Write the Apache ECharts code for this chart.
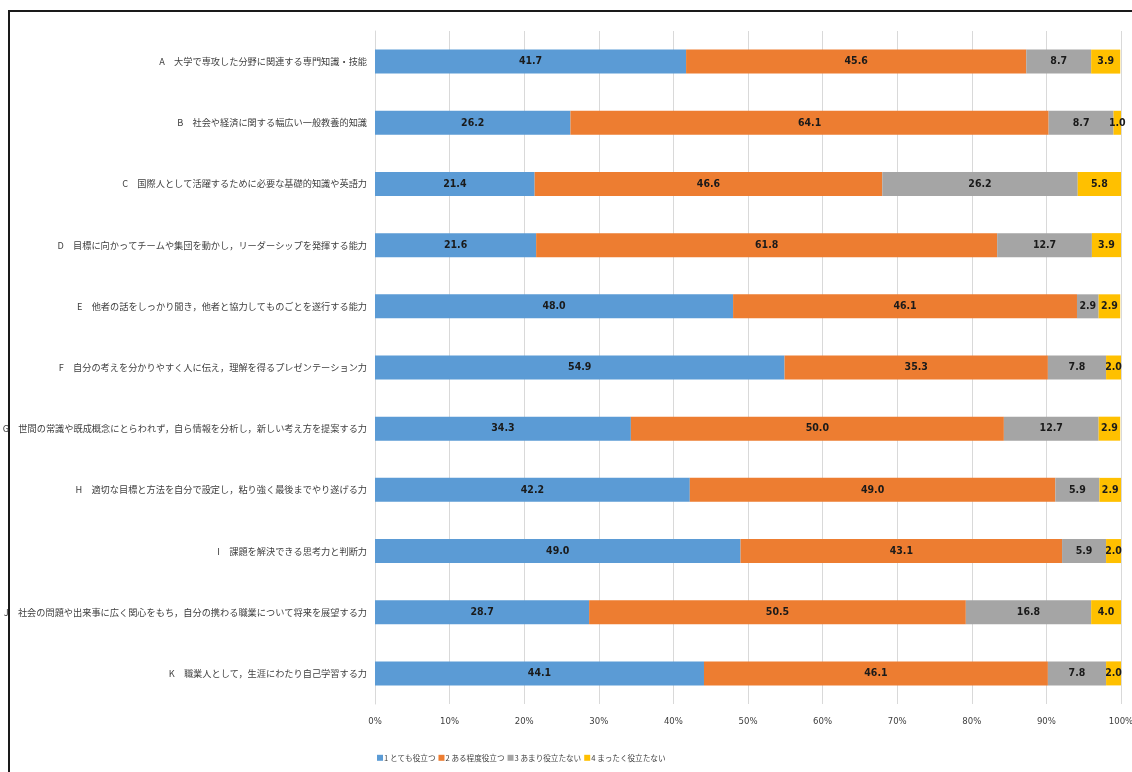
<!DOCTYPE html>
<html><head><meta charset="utf-8">
<script src="https://cdn.jsdelivr.net/npm/echarts@6/dist/echarts.min.js"></script>
<style>html,body{margin:0;padding:0;background:#fff}#c{width:1132px;height:772px}</style>
</head><body><div id="c"></div>
<script>
const categories = [
  'A　大学で専攻した分野に関連する専門知識・技能',
  'B　社会や経済に関する幅広い一般教養的知識',
  'C　国際人として活躍するために必要な基礎的知識や英語力',
  'D　目標に向かってチームや集団を動かし，リーダーシップを発揮する能力',
  'E　他者の話をしっかり聞き，他者と協力してものごとを遂行する能力',
  'F　自分の考えを分かりやすく人に伝え，理解を得るプレゼンテーション力',
  'G　世間の常識や既成概念にとらわれず，自ら情報を分析し，新しい考え方を提案する力',
  'H　適切な目標と方法を自分で設定し，粘り強く最後までやり遂げる力',
  'I　課題を解決できる思考力と判断力',
  'J　社会の問題や出来事に広く関心をもち，自分の携わる職業について将来を展望する力',
  'K　職業人として，生涯にわたり自己学習する力'
];
const seriesNames = ['1 とても役立つ', '2 ある程度役立つ', '3 あまり役立たない', '4 まったく役立たない'];
const s1 = [41.7, 26.2, 21.4, 21.6, 48.0, 54.9, 34.3, 42.2, 49.0, 28.7, 44.1];
const s2 = [45.6, 64.1, 46.6, 61.8, 46.1, 35.3, 50.0, 49.0, 43.1, 50.5, 46.1];
const s3 = [8.7, 8.7, 26.2, 12.7, 2.9, 7.8, 12.7, 5.9, 5.9, 16.8, 7.8];
const s4 = [3.9, 1.0, 5.8, 3.9, 2.9, 2.0, 2.9, 2.9, 2.0, 4.0, 2.0];
const colors = ['#5B9BD5', '#ED7D31', '#A5A5A5', '#FFC000'];

const chart = echarts.init(document.getElementById('c'));
const lblFont = "'DejaVu Sans Condensed','Liberation Sans',sans-serif";
const cjk = "'Noto Sans CJK JP','Noto Sans CJK SC',sans-serif";
const series = [s1, s2, s3, s4].map((d, i) => ({
  name: seriesNames[i],
  type: 'bar',
  stack: 'total',
  barWidth: 24,
  data: d,
  itemStyle: { color: colors[i] },
  label: {
    show: true,
    position: 'inside',
    formatter: p => p.value.toFixed(1),
    color: '#1a1a1a',
    fontWeight: 'bold',
    fontSize: 10.5,
    fontFamily: lblFont
  }
}));
chart.setOption({
  animation: false,
  backgroundColor: '#fff',
  color: colors,
  grid: { left: 375, right: 11, top: 31, bottom: 68, containLabel: false, outerBoundsMode: 'none' },
  xAxis: {
    type: 'value', min: 0, max: 100, interval: 10,
    axisLabel: { formatter: v => v + '%', color: '#404040', fontSize: 9.5, fontFamily: lblFont, margin: 13 },
    splitLine: { show: true, lineStyle: { color: '#d9d9d9', width: 1 } },
    axisLine: { show: false }, axisTick: { show: false }
  },
  yAxis: {
    type: 'category', data: categories, inverse: true,
    axisLabel: { color: '#404040', fontSize: 9.2, fontFamily: cjk, margin: 8 },
    axisLine: { show: true, lineStyle: { color: '#d9d9d9' } },
    axisTick: { show: false }
  },
  legend: {
    left: 372, top: 749, itemWidth: 6, itemHeight: 6, itemGap: 3,
    icon: 'rect',
    textStyle: { color: '#404040', fontSize: 7.6, fontFamily: cjk, padding: [0, 0, 0, -4] },
    data: seriesNames
  },
  graphic: [{
    type: 'rect', silent: true,
    shape: { x: 9, y: 11, width: 1200, height: 800 },
    style: { fill: 'none', stroke: '#1a1a1a', lineWidth: 2 }
  }],
  series: series
});
</script></body></html>
